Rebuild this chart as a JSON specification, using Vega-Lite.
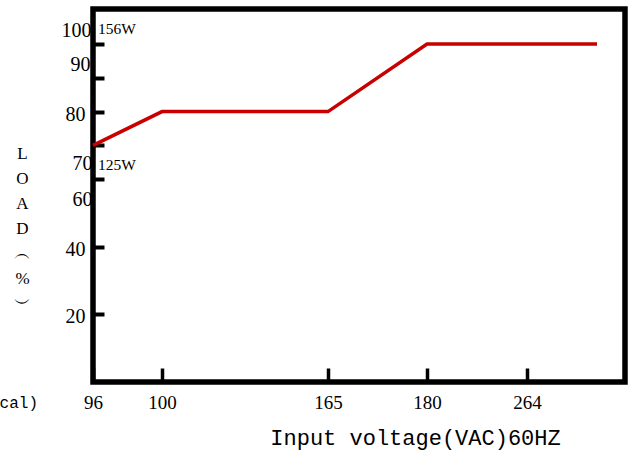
{
  "$schema": "https://vega.github.io/schema/vega-lite/v6.json",
  "width": 532,
  "height": 373,
  "autosize": {"type": "none"},
  "padding": {"left": 93, "top": 9, "right": 7, "bottom": 70},
  "background": "white",
  "config": {
    "view": {"stroke": "black", "strokeWidth": 5.5},
    "font": "Liberation Serif"
  },
  "datasets": {
    "curve": [
      {"voltage": 96, "load": 70},
      {"voltage": 100, "load": 80},
      {"voltage": 165, "load": 80},
      {"voltage": 180, "load": 100},
      {"voltage": 300, "load": 100}
    ],
    "notes": [
      {"voltage": 96, "load": 104.3, "label": "156W"},
      {"voltage": 96, "load": 64.2, "label": "125W"}
    ],
    "cut": [
      {"voltage": 96, "load": 0, "label": "(Typical)"}
    ]
  },
  "layer": [
    {
      "data": {"name": "curve"},
      "mark": {"type": "line", "color": "#c80000", "strokeWidth": 3.5},
      "encoding": {
        "x": {
          "field": "voltage",
          "type": "quantitative",
          "scale": {
            "domain": [96, 100, 165, 180, 264, 300, 315.4],
            "range": [0, 69, 235, 334, 434, 504, 532],
            "nice": false,
            "zero": false
          },
          "axis": {
            "values": [96, 100, 165, 180, 264],
            "domain": false,
            "grid": false,
            "tickSize": -14,
            "tickWidth": 3.5,
            "tickColor": "black",
            "labelFont": "Liberation Serif",
            "labelFontSize": 19,
            "labelColor": "black",
            "labelPadding": 25,
            "labelFlush": false,
            "labelOverlap": false,
            "title": "Input voltage(VAC)60HZ",
            "titleFont": "Liberation Mono",
            "titleFontSize": 22,
            "titleFontWeight": "normal",
            "titleColor": "black",
            "titleX": 322,
            "titleY": 62,
            "titleAlign": "center",
            "titleBaseline": "alphabetic"
          }
        },
        "y": {
          "field": "load",
          "type": "quantitative",
          "scale": {"domain": [0, 110.36], "nice": false, "zero": true},
          "axis": {
            "values": [20, 40, 60, 70, 80, 90, 100],
            "domain": false,
            "grid": false,
            "tickSize": -11,
            "tickWidth": 4,
            "tickColor": "black",
            "labelFont": "Liberation Serif",
            "labelFontSize": 20,
            "labelColor": "black",
            "labelBaseline": "middle",
            "labelOverlap": false,
            "labelFlush": false,
            "labelPadding": {
              "condition": [
                {"test": "datum.value == 100", "value": 13},
                {"test": "datum.value == 90", "value": 14},
                {"test": "datum.value == 70", "value": 12},
                {"test": "datum.value == 60", "value": 12}
              ],
              "value": 19
            },
            "labelOffset": {
              "condition": [
                {"test": "datum.value == 100", "value": -14},
                {"test": "datum.value == 90", "value": -13.5},
                {"test": "datum.value == 80", "value": 3},
                {"test": "datum.value == 70", "value": 18},
                {"test": "datum.value == 60", "value": 20}
              ],
              "value": 2.5
            },
            "title": ["L", "O", "A", "D", "︵", "%", "︶"],
            "titleAngle": 0,
            "titleFont": "Liberation Serif",
            "titleFontSize": 17,
            "titleFontWeight": "normal",
            "titleColor": "black",
            "titleLineHeight": 25,
            "titleX": -71,
            "titleY": 136,
            "titleAlign": "center",
            "titleBaseline": "top"
          }
        }
      }
    },
    {
      "data": {"name": "notes"},
      "mark": {"type": "text", "align": "left", "baseline": "middle", "dx": 5, "fontSize": 15.5, "font": "Liberation Serif", "color": "black"},
      "encoding": {
        "x": {"field": "voltage", "type": "quantitative"},
        "y": {"field": "load", "type": "quantitative"},
        "text": {"field": "label"}
      }
    },
    {
      "data": {"name": "cut"},
      "mark": {"type": "text", "align": "right", "baseline": "middle", "dx": -55, "dy": 21, "fontSize": 16, "font": "Liberation Mono", "color": "black"},
      "encoding": {
        "x": {"field": "voltage", "type": "quantitative"},
        "y": {"field": "load", "type": "quantitative"},
        "text": {"field": "label"}
      }
    }
  ]
}
